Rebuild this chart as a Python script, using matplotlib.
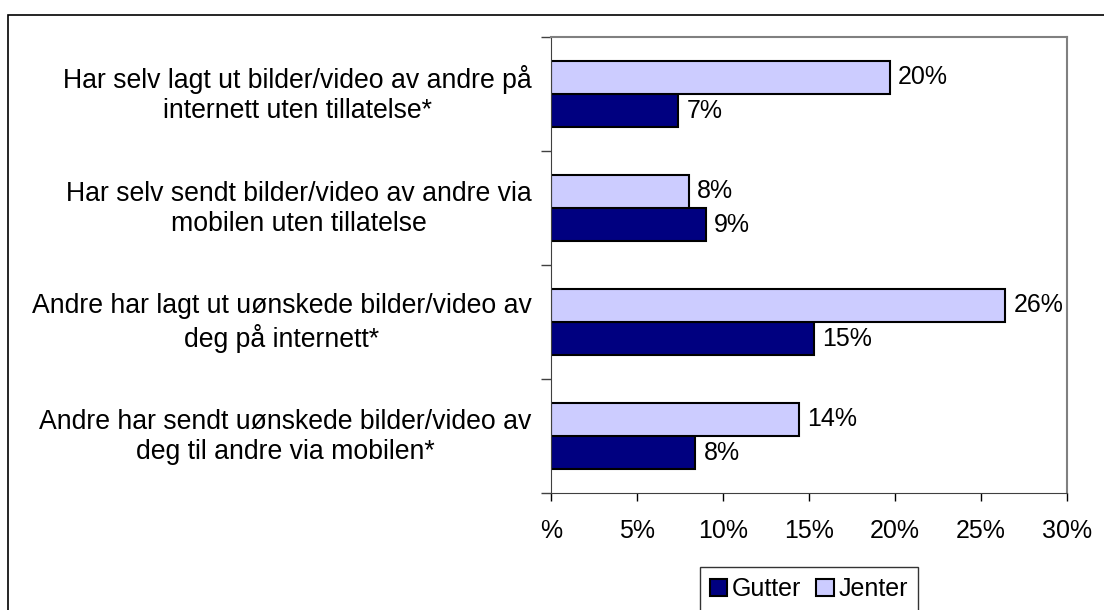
import numpy as np
import matplotlib.pyplot as plt
from matplotlib.patches import Rectangle
from matplotlib.transforms import ScaledTranslation

# Kategorier (ovenfra og ned) og andeler i prosent
kategorier = [
    "Har selv lagt ut bilder/video av andre på\ninternett uten tillatelse*",
    "Har selv sendt bilder/video av andre via\nmobilen uten tillatelse",
    "Andre har lagt ut uønskede bilder/video av\ndeg på internett*",
    "Andre har sendt uønskede bilder/video av\ndeg til andre via mobilen*",
]
jenter = [19.7, 8.0, 26.4, 14.4]
gutter = [7.4, 9.0, 15.3, 8.4]
x_ticks = [0, 5, 10, 15, 20, 25, 30]
x_tick_labels = ["%", "5%", "10%", "15%", "20%", "25%", "30%"]

plt.rcParams['font.family'] = ['Liberation Sans', 'DejaVu Sans']
fs = 18

fig = plt.figure(figsize=(11.04, 6.10), dpi=100)
ax = fig.add_axes([551 / 1104, 1 - 493 / 610, (1067 - 551) / 1104, (493 - 37) / 610])

# ytre ramme rundt diagrammet
fig.patches.append(Rectangle((8 / 1104, -0.1), 1.2, 1 - 15 / 610 + 0.1, transform=fig.transFigure,
                             fill=False, edgecolor='black', linewidth=1.2))

y = np.arange(len(kategorier))
h = 0.29
mork = '#000080'
lys = '#CCCCFF'

b_g = ax.barh(y + h / 2, gutter, height=h, color=mork, edgecolor='black', linewidth=1.5, label='Gutter')
b_j = ax.barh(y - h / 2, jenter, height=h, color=lys, edgecolor='black', linewidth=1.5, label='Jenter')

for i in range(len(kategorier)):
    ax.annotate(f"{jenter[i]:.0f}%", (jenter[i], y[i] - h / 2), xytext=(6, 0), textcoords='offset points',
                va='center', ha='left', fontsize=fs)
    ax.annotate(f"{gutter[i]:.0f}%", (gutter[i], y[i] + h / 2), xytext=(6, 0), textcoords='offset points',
                va='center', ha='left', fontsize=fs)

ax.set_xlim(0, 30)
ax.set_ylim(len(kategorier) - 0.5, -0.5)
ax.set_xticks(x_ticks)
ax.set_xticklabels(x_tick_labels, fontsize=fs)
ax.tick_params(axis='x', length=6, width=1, pad=13, colors='black')

ax.set_yticks(y)
ax.set_yticklabels(kategorier, fontsize=19.2, ha='right', multialignment='center')
ax.tick_params(axis='y', length=0, pad=14)
ax.set_yticks(np.arange(-0.5, len(kategorier)), minor=True)
ax.tick_params(axis='y', which='minor', length=7, width=1, color='#404040')
for lbl in ax.get_yticklabels():
    lbl.set_transform(lbl.get_transform() + ScaledTranslation(0, 3 / 72, fig.dpi_scale_trans))

for s in ['top', 'right']:
    ax.spines[s].set_color('#808080')
    ax.spines[s].set_linewidth(1.5)
ax.spines['left'].set_color('#404040')
ax.spines['bottom'].set_color('#404040')

leg = fig.legend(handles=[b_g, b_j], loc='center', bbox_to_anchor=(809 / 1104, 1 - 589 / 610),
                 ncol=2, fontsize=fs, frameon=True, fancybox=False, edgecolor='black',
                 handlelength=0.7, handleheight=0.7, handletextpad=0.2, columnspacing=0.6,
                 borderpad=0.4, borderaxespad=0)
leg.get_frame().set_linewidth(1)

fig.savefig('out.png', dpi=100)
